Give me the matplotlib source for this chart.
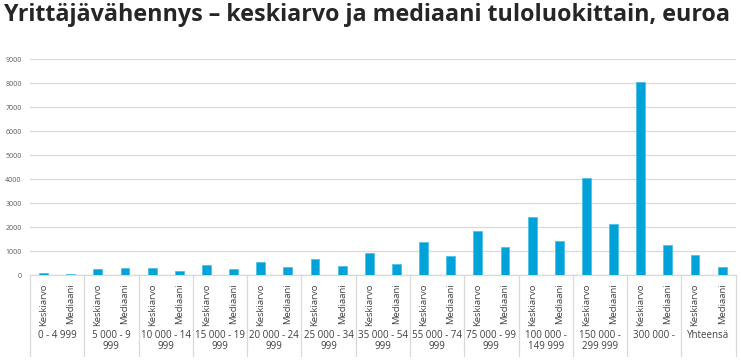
import matplotlib
matplotlib.use("Agg")
import matplotlib.pyplot as plt
import matplotlib.transforms as mtransforms
from matplotlib.lines import Line2D
import numpy as np

groups = ["0 - 4 999", "5 000 - 9\n999", "10 000 - 14\n999", "15 000 - 19\n999",
          "20 000 - 24\n999", "25 000 - 34\n999", "35 000 - 54\n999", "55 000 - 74\n999",
          "75 000 - 99\n999", "100 000 -\n149 999", "150 000 -\n299 999", "300 000 -",
          "Yhteensä"]
subcats = ["Keskiarvo", "Mediaani"]
keskiarvo = [70, 260, 285, 410, 530, 665, 930, 1370, 1850, 2430, 4060, 8065, 835]
mediaani = [55, 285, 155, 250, 335, 390, 460, 795, 1180, 1430, 2140, 1250, 335]
yticks = list(range(0, 10000, 1000))

W, H = 741, 362
fig = plt.figure(figsize=(W / 100, H / 100), dpi=100)
left, right, bottom, top = 30, 735.7, 275, 59.3
ax = fig.add_axes([left / W, 1 - bottom / H, (right - left) / W, (bottom - top) / H])

n = len(groups)
values = []
for k, m in zip(keskiarvo, mediaani):
    values += [k, m]
x = np.arange(2 * n)
color = "#00A2D8"
ax.bar(x, values, width=0.33, color=color, edgecolor="#4FC0E6", linewidth=0.6, zorder=3)
ax.set_xlim(-0.5, 2 * n - 0.5)
ax.set_ylim(0, 9000)
ax.set_yticks(yticks)
ax.set_yticklabels([str(v) for v in yticks], fontsize=5, color="#595959", family="Open Sans")
ax.yaxis.grid(True, color="#D9D9D9", linewidth=0.9, zorder=0)
ax.tick_params(axis="y", length=0, pad=6)
for s in ["top", "right", "left"]:
    ax.spines[s].set_visible(False)
ax.spines["bottom"].set_color("#D9D9D9")
ax.spines["bottom"].set_linewidth(0.9)

ax.set_xticks(x)
ax.set_xticklabels(subcats * n, rotation=90, fontsize=6.8, color="#404040", family="Open Sans")
ax.tick_params(axis="x", length=0, pad=6)

trans = mtransforms.blended_transform_factory(ax.transData, fig.transFigure)
sep_bottom = 1 - 356 / H
for i in range(n + 1):
    xb = 2 * i - 0.5
    ax.add_line(Line2D([xb, xb], [1 - bottom / H, sep_bottom], transform=trans,
                       color="#D9D9D9", linewidth=0.9, clip_on=False))
for i, g in enumerate(groups):
    ax.text(2 * i + 0.5, 1 - 330 / H, g, transform=trans, ha="center", va="top",
            fontsize=7, color="#404040", family="Open Sans", linespacing=1.05)

title = fig.text(4 / W, 1 - 3 / H, "Yrittäjävähennys – keskiarvo ja mediaani tuloluokittain, euroa",
                 ha="left", va="top", fontsize=15.5, fontweight="bold", color="#262626",
                 family="Open Sans")
renderer = fig.canvas.get_renderer()
w = title.get_window_extent(renderer).width
title.set_fontsize(15.5 * 726 / w)

fig.savefig("out.png", dpi=100)
